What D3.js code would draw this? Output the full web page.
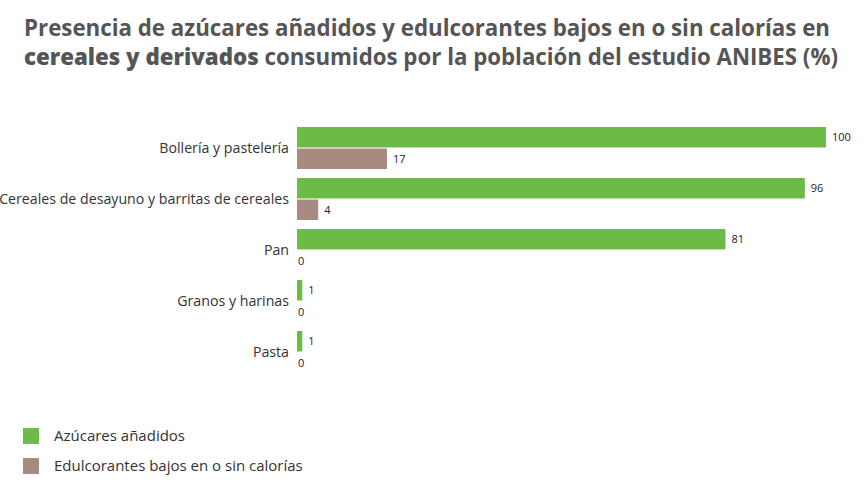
<!DOCTYPE html>
<html><head><meta charset="utf-8">
<script src="https://cdn.jsdelivr.net/npm/d3@7"></script>
<style>
body{margin:0;background:#fff;}
svg{display:block;font-family:"Open Sans",sans-serif;}
</style></head>
<body>
<svg id="c" width="868" height="489"></svg>
<script>
const categories = ["Bollería y pastelería","Cereales de desayuno y barritas de cereales","Pan","Granos y harinas","Pasta"];
const seriesNames = ["Azúcares añadidos","Edulcorantes bajos en o sin calorías"];
const azucares = [100,96,81,1,1];
const edulcorantes = [17,4,0,0,0];
const colors = ["#6cbb47","#a88a80"];

const svg = d3.select("#c");

// Title
const t1 = svg.append("text").attr("x",24).attr("y",36).attr("fill","#555").attr("font-size",22.5).attr("font-weight",700)
  .text("Presencia de azúcares añadidos y edulcorantes bajos en o sin calorías en");
t1.attr("textLength",806).attr("lengthAdjust","spacingAndGlyphs");
const t2 = svg.append("text").attr("x",24).attr("y",65).attr("fill","#555").attr("font-size",22.5)
  .attr("textLength",814).attr("lengthAdjust","spacingAndGlyphs");
t2.append("tspan").attr("font-weight",800).text("cereales y derivados");
t2.append("tspan").attr("font-weight",700).text(" consumidos por la población del estudio ANIBES (%)");

const x = d3.scaleLinear().domain([0,100]).range([297,826]);
const y0 = d3.scaleBand().domain(categories).range([127,382]).paddingInner(0).paddingOuter(0);
const y1 = d3.scaleBand().domain([0,1]).range([0,42]).paddingInner(0.05);

const data = categories.map((c,i)=>({c, vals:[azucares[i],edulcorantes[i]]}));

const g = svg.append("g");
const grp = g.selectAll("g.cat").data(data).join("g").attr("transform",d=>`translate(0,${y0(d.c)})`);
grp.selectAll("rect").data(d=>d.vals.map((v,k)=>({v,k}))).join("rect")
  .attr("x",x(0)).attr("y",d=>y1(d.k)).attr("height",y1.bandwidth())
  .attr("width",d=>x(d.v)-x(0)).attr("fill",d=>colors[d.k]);
grp.selectAll("text.val").data(d=>d.vals.map((v,k)=>({v,k}))).join("text").attr("class","val")
  .attr("x",d=>d.v===0 ? x(0)+1 : x(d.v)+6).attr("y",d=>y1(d.k)+y1.bandwidth()/2).attr("dy","0.35em")
  .attr("font-size",11).attr("fill","#222").text(d=>d.v);

// category axis labels
const yAxis = d3.axisLeft(d3.scalePoint().domain(categories).range([y0(categories[0])+21, y0(categories[4])+21])).tickSize(0).tickPadding(0);
const ax = svg.append("g").attr("transform","translate(289,0)").call(yAxis);
ax.select(".domain").remove();
ax.selectAll("text").attr("font-size",14.2).attr("fill","#333").attr("font-family","'Open Sans',sans-serif");

// legend
const lg = svg.append("g").selectAll("g").data(seriesNames).join("g").attr("transform",(d,i)=>`translate(23,${428+i*30})`);
lg.append("rect").attr("width",16).attr("height",16).attr("fill",(d,i)=>colors[i]);
lg.append("text").attr("x",31).attr("y",8).attr("dy","0.35em").attr("font-size",15).attr("fill","#333").text(d=>d);
</script>
</body></html>
